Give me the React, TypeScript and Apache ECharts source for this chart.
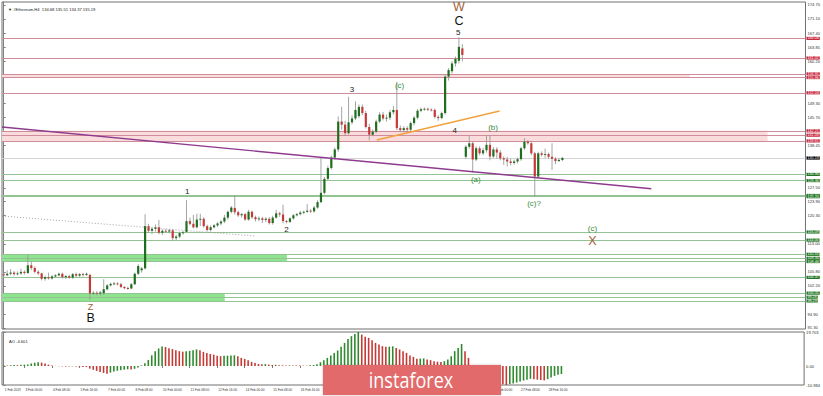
import React, { useEffect, useRef } from "react";
import * as echarts from "echarts";

// [open, close, low, high] per H4 bar
const ohlc: number[][] = [
  [105.2, 104.9, 104.4, 105.8], [104.9, 105.3, 104.7, 106.2], [105.3, 105.6, 104.9, 106.5], [105.6, 105.2, 104.8, 106.0],
  [105.2, 105.4, 104.9, 105.9], [105.4, 105.8, 105.0, 106.6], [105.8, 105.5, 105.1, 106.2], [105.5, 107.5, 105.2, 110.2],
  [107.5, 106.8, 106.3, 108.4], [106.8, 105.8, 105.4, 107.2], [105.8, 105.4, 105.0, 106.2], [105.4, 104.0, 103.6, 105.6],
  [104.0, 104.4, 103.5, 104.8], [104.4, 104.1, 103.8, 105.6], [104.1, 104.6, 103.8, 105.0], [104.6, 104.9, 104.3, 105.2],
  [104.9, 105.3, 104.6, 105.6], [105.3, 104.4, 104.1, 105.6], [104.4, 104.7, 104.0, 105.0], [104.7, 104.3, 104.0, 105.0],
  [104.3, 105.2, 104.0, 105.5], [105.2, 104.8, 104.4, 105.6], [104.8, 105.2, 104.5, 105.5], [105.2, 105.0, 104.6, 105.5],
  [105.0, 105.3, 104.7, 105.6], [105.0, 100.2, 98.5, 105.3], [100.2, 100.4, 99.8, 100.8], [100.4, 100.2, 99.7, 100.8],
  [100.2, 100.5, 99.7, 100.9], [100.3, 101.3, 99.8, 103.9], [101.3, 102.3, 101.0, 102.6], [102.3, 102.7, 102.0, 103.0],
  [102.7, 102.8, 102.4, 103.2], [102.8, 102.6, 102.3, 103.1], [102.6, 101.9, 101.6, 103.0], [101.9, 101.6, 101.3, 102.1],
  [101.6, 101.5, 101.2, 102.0], [101.5, 102.6, 101.3, 102.9], [102.6, 105.3, 102.4, 105.6], [105.3, 107.3, 105.0, 107.8],
  [106.2, 106.7, 105.6, 107.0], [106.7, 117.6, 106.4, 120.7], [117.6, 116.4, 115.8, 118.2], [116.4, 116.9, 115.5, 117.3],
  [116.9, 117.3, 116.2, 118.0], [117.3, 115.9, 115.5, 119.2], [115.9, 116.4, 115.3, 116.8], [116.4, 116.2, 115.8, 116.9],
  [116.2, 116.5, 115.7, 116.9], [116.5, 114.5, 113.8, 116.8], [114.5, 114.9, 114.0, 115.3], [114.9, 115.8, 114.5, 116.2],
  [115.8, 116.0, 115.4, 116.4], [116.1, 118.9, 115.9, 124.3], [118.9, 118.2, 117.8, 119.8], [118.2, 117.3, 117.0, 120.5],
  [117.3, 119.3, 117.0, 120.8], [119.3, 119.5, 117.6, 120.8], [119.5, 117.6, 117.2, 119.9], [117.6, 116.6, 116.2, 118.0],
  [116.6, 117.3, 116.2, 117.8], [117.3, 117.8, 117.0, 118.1], [117.8, 118.3, 117.4, 118.6], [118.3, 118.8, 117.8, 119.1],
  [118.8, 119.8, 118.4, 120.5], [119.8, 121.3, 119.3, 121.6], [121.3, 122.4, 120.9, 122.8], [122.3, 121.2, 120.6, 125.6],
  [121.2, 120.4, 120.0, 121.6], [120.4, 120.7, 119.8, 121.0], [120.7, 119.3, 119.0, 121.0], [119.3, 121.3, 119.0, 121.8],
  [121.3, 119.9, 119.5, 121.6], [119.9, 119.4, 118.8, 120.3], [119.4, 119.6, 118.9, 120.1], [119.6, 119.2, 118.4, 120.0],
  [119.2, 119.5, 118.6, 119.9], [119.5, 118.4, 118.0, 119.9], [118.4, 119.8, 118.0, 120.3], [119.8, 120.9, 119.5, 121.8],
  [120.9, 120.6, 120.0, 121.3], [120.6, 118.9, 118.3, 123.1], [118.9, 118.7, 118.3, 119.2], [118.7, 119.6, 118.4, 119.9],
  [119.6, 120.4, 119.3, 120.7], [120.4, 120.7, 120.1, 121.0], [120.7, 121.1, 120.4, 121.5], [121.1, 121.3, 120.7, 121.6],
  [121.3, 121.6, 121.0, 123.3], [121.6, 121.4, 121.0, 122.0], [121.4, 122.4, 121.1, 122.8], [122.4, 123.8, 122.1, 124.3],
  [123.8, 126.2, 123.5, 135.4], [126.2, 129.8, 125.8, 130.3], [129.8, 132.6, 129.4, 133.2], [132.6, 135.3, 132.2, 135.8],
  [135.3, 137.4, 134.8, 137.9], [137.4, 144.6, 136.8, 145.9], [144.6, 143.8, 142.5, 148.4], [143.8, 141.6, 141.0, 144.8],
  [141.6, 144.4, 141.2, 151.0], [144.4, 145.4, 143.9, 146.2], [145.4, 147.6, 145.0, 149.8], [146.0, 148.4, 145.5, 149.0],
  [148.4, 146.8, 146.3, 149.0], [146.8, 143.2, 142.8, 147.4], [143.2, 141.2, 139.8, 144.0], [141.2, 142.0, 140.8, 142.6],
  [142.0, 144.6, 141.6, 145.1], [144.6, 146.4, 144.2, 147.0], [146.4, 145.4, 144.9, 147.1], [145.4, 145.6, 144.6, 146.4],
  [145.6, 147.0, 145.0, 147.6], [147.0, 147.6, 146.4, 148.6], [147.6, 142.9, 142.4, 154.9], [142.9, 142.4, 141.9, 143.6],
  [142.4, 142.9, 141.8, 143.4], [142.9, 142.5, 141.6, 143.4], [142.5, 144.2, 142.1, 144.6], [144.2, 145.6, 143.6, 146.0],
  [145.6, 147.4, 145.2, 147.8], [147.4, 147.8, 147.0, 148.2], [147.8, 147.9, 147.4, 148.2], [147.9, 147.7, 147.3, 148.2],
  [147.7, 147.6, 147.2, 148.0], [147.6, 145.8, 145.4, 148.0], [145.8, 145.5, 144.8, 146.2], [145.5, 146.8, 145.2, 147.2],
  [146.8, 156.2, 146.4, 156.8], [156.2, 157.9, 155.2, 158.4], [157.6, 159.6, 157.0, 160.2], [159.6, 160.8, 158.8, 161.4],
  [160.3, 163.9, 159.6, 166.4], [163.5, 161.8, 160.1, 164.6], [135.5, 138.1, 135.0, 138.5], [138.1, 139.0, 137.6, 140.9],
  [139.0, 134.8, 131.4, 139.4], [134.8, 137.7, 134.4, 138.2], [137.7, 136.4, 135.9, 138.2], [136.4, 137.2, 135.9, 137.8],
  [137.2, 138.6, 136.6, 140.9], [138.6, 135.6, 134.6, 141.1], [135.6, 137.4, 135.2, 138.0], [137.4, 136.6, 135.0, 138.0],
  [136.6, 135.1, 134.6, 137.2], [135.1, 134.8, 133.4, 135.6], [134.8, 134.3, 133.0, 135.5], [134.3, 133.9, 133.3, 135.0],
  [133.9, 134.3, 133.5, 134.8], [134.3, 134.9, 133.8, 135.3], [134.9, 137.7, 134.5, 138.1], [137.7, 139.4, 137.3, 140.3],
  [139.4, 139.0, 138.6, 139.8], [139.0, 136.4, 135.9, 139.6], [136.4, 130.4, 125.2, 136.8], [130.4, 136.4, 130.0, 136.8],
  [136.4, 136.0, 135.6, 136.9], [136.0, 136.2, 135.2, 137.6], [136.2, 135.5, 135.0, 136.6], [135.5, 135.0, 132.1, 139.0],
  [135.0, 134.4, 133.6, 135.4], [134.4, 134.7, 134.2, 135.2], [134.68, 135.19, 134.37, 135.51],
];

// Awesome Oscillator per bar
const aoValues: number[] = [
  0.4, 0.3, 0.5, 0.6, 0.5, 0.7, 0.8, 0.9,
  1.4, 1.9, 2.2, 2.0, 1.5, 0.8,
  0.3, 0.1, -0.1, -0.2, -0.3, -0.3, -0.2, -0.3, -0.4, -0.5, -0.6,
  -1.5, -2.2, -2.8, -3.4, -4.0, -4.4, -3.8, -3.2, -2.7, -2.4, -2.1, -1.9, -2.0, -1.6, -0.8, 0.4,
  1.6, 3.5, 6.2, 8.6, 10.2, 11.3,
  11.0, 10.3, 9.8, 9.2, 8.6, 8.3, 8.5, 8.8, 9.2, 9.6, 9.2, 8.2, 7.6, 7.0, 6.6, 6.0, 5.7,
  5.9, 6.0, 6.1, 6.2,
  5.6, 4.7, 4.1, 3.3, 2.4, 1.8, 1.2, 1.0, 1.1, 0.8, 0.6, 0.7, 0.5, 0.4, 0.3, 0.4, 0.35, 0.3, 0.3,
  0.25, 0.2, 0.4, 0.6, 1.1,
  2.2, 3.3, 4.7, 6.1, 7.6, 9.0, 11.1, 13.4, 15.7, 17.3, 18.6,
  19.7, 18.2, 17.0, 16.3, 14.9, 13.4, 12.4, 11.5, 11.1, 11.2, 11.4, 10.5, 9.6, 8.6, 7.6, 6.1, 5.3,
  4.2, 4.3, 4.4, 3.8, 3.4, 2.8, 2.5, 2.4, 2.8, 3.8, 5.7, 8.6, 10.5, 12.8, 8.6, 4.7,
  0.6, -1.8, -4.2, -6.3, -7.8, -8.9, -9.6, -10.1,
  -10.2, -10.6, -10.984, -10.5, -10.1, -9.6, -9.0, -8.4, -7.9, -7.4, -7.6, -7.9, -8.1, -8.3, -7.6, -6.6, -5.7, -5.1, -4.601,
];

const redLevels = [166.08, 161.01, 156.91, 155.96, 152.03, 142.21, 141.09, 139.61];
const greenLevels = [130.96, 129.36, 125.52, 125.2, 116.09, 114.0, 110.33, 109.3, 108.46, 104.37, 100.31, 99.26, 98.29];
const bidPrice = 135.19;

// [upper price, lower price, last bar index]
const pinkZones = [[156.91, 155.96, 198.9], [142.21, 139.61, 221.5]];
const greenZones = [[110.33, 108.46, 82.1], [100.31, 98.29, 64.1]];

// trend lines: [barIndex, price] pairs
const purpleTrend = [[-0.5, 143.2], [187.8, 127.27]];
const orangeTrend = [[108.2, 139.84], [143.8, 147.33]];
const dottedTrend = [[-0.5, 120.22], [72.8, 115.06]];

// price scale labels that stay visible beside the level boxes
const priceTicks = [174.7, 171.1, 167.4, 163.85, 160.2, 149.3, 145.7, 138.45, 127.5,
  123.9, 120.3, 113.0, 105.8, 102.2, 94.9, 91.3];
const aoTicks = [19.703, 0, -10.984];

const timeTickBars = [0, 6, 14, 22, 30, 38, 46, 54, 62, 70, 78, 86, 94, 102, 110, 118, 126, 134, 142, 150, 158];
const timeTickLabels = ["1 Feb 2019", "3 Feb 00:00", "4 Feb 08:00", "5 Feb 16:00", "7 Feb 00:00", "8 Feb 08:00",
  "10 Feb 00:00", "11 Feb 08:00", "12 Feb 16:00", "14 Feb 00:00", "15 Feb 08:00", "16 Feb 16:00", "18 Feb 00:00",
  "19 Feb 08:00", "20 Feb 16:00", "22 Feb 00:00", "23 Feb 08:00", "24 Feb 16:00", "26 Feb 00:00", "27 Feb 08:00",
  "28 Feb 16:00"];

// wave labels: [text, barIndex, price]
const brownBigWaves: [string, number, number][] = [["W", 132, 174.18], ["X", 170.7, 113.84]];
const brownSmallWaves: [string, number, number][] = [["Z", 25.2, 96.8]];
const blackBigWaves: [string, number, number][] = [["C", 132, 170.57], ["B", 25.2, 93.81]];
const blackSmallWaves: [string, number, number][] = [["5", 131.8, 167.47], ["3", 101, 152.75], ["4", 130.8, 142.17],
  ["1", 53.2, 126.67], ["2", 82, 116.79]];
const greenWaves: [string, number, number][] = [["(c)", 114.8, 153.79], ["(b)", 141.9, 143.12], ["(a)", 136.9, 129.7],
  ["(c)?", 153.8, 123.32], ["(c)", 170.7, 117.04]];

const SYMBOL = "#Ethereum,H4";
const X_MIN = -0.5;
const X_MAX = 232.5;
const FONT = "'Liberation Sans', Arial, sans-serif";
const TINY = 4.1;

function waveSeries(group: [string, number, number][], color: string, size: number) {
  return {
    type: "custom",
    xAxisIndex: 0,
    yAxisIndex: 0,
    z: 6,
    silent: true,
    data: group.map((g) => [g[1], g[2]]),
    renderItem: (params: any, api: any) => {
      const pt = api.coord([api.value(0), api.value(1)]);
      return {
        type: "text",
        x: pt[0],
        y: pt[1],
        style: {
          text: group[params.dataIndex][0],
          fill: color,
          fontSize: size,
          lineHeight: size,
          fontFamily: FONT,
          align: "center",
          verticalAlign: "middle",
        },
      };
    },
  };
}

function levelLine(v: number, lineColor: string, boxColor: string) {
  return {
    yAxis: v,
    lineStyle: { color: lineColor, width: 1, type: "solid" },
    label: {
      show: true,
      position: "end",
      formatter: v.toFixed(2),
      backgroundColor: boxColor,
      color: "#fff",
      fontSize: 3.7,
      lineHeight: 3.2,
      fontFamily: FONT,
      padding: [0, 1, 0, 1],
      distance: 1,
    },
  };
}

export default function App() {
  const ref = useRef<HTMLDivElement>(null);
  useEffect(() => {
    if (!ref.current) return;
    const chart = echarts.init(ref.current, null, { renderer: "svg" });
    const last = ohlc[ohlc.length - 1];
    const title = `\u25BC ${SYMBOL}  ${last[0].toFixed(2)} ${last[3].toFixed(2)} ${last[2].toFixed(2)} ${last[1].toFixed(2)}`;
    const aoLast = aoValues[aoValues.length - 1];

    const candleData = ohlc.map((d, i) => [i, d[0], d[1], d[2], d[3]]);
    const aoData = aoValues.map((v, i) => [i, v]);

    const option: any = {
      animation: false,
      backgroundColor: "#ffffff",
      title: [
        { text: title, left: 3, top: 2, textStyle: { fontSize: TINY, color: "#222", fontWeight: "normal", fontFamily: FONT } },
        { text: `AO ${aoLast.toFixed(3)}`, left: 4, top: 334, textStyle: { fontSize: TINY, color: "#222", fontWeight: "normal", fontFamily: FONT } },
      ],
      grid: [
        { left: 2, right: 17, top: 2, height: 327, show: true, borderColor: "#707070", borderWidth: 1, backgroundColor: "transparent" },
        { left: 2, right: 17, top: 332, height: 53, show: true, borderColor: "#707070", borderWidth: 1, backgroundColor: "transparent" },
      ],
      xAxis: [
        { type: "value", gridIndex: 0, min: X_MIN, max: X_MAX, show: false },
        {
          type: "value", gridIndex: 1, min: X_MIN, max: X_MAX,
          axisLine: { show: false },
          splitLine: { show: false },
          axisTick: { show: true, customValues: timeTickBars, length: 2, lineStyle: { color: "#777" } },
          axisLabel: {
            customValues: timeTickBars,
            formatter: (v: number) => timeTickLabels[timeTickBars.indexOf(v)] ?? "",
            fontSize: 3.2, color: "#333", fontFamily: FONT, align: "left", margin: 3, padding: [0, 0, 0, 1],
            hideOverlap: false, showMinLabel: true, showMaxLabel: true,
          },
        },
      ],
      yAxis: [
        {
          type: "value", gridIndex: 0, position: "right", min: 91.04, max: 175.47,
          axisLine: { show: true, lineStyle: { color: "#808080" } },
          splitLine: { show: false },
          axisTick: { show: true, customValues: priceTicks, length: 2, lineStyle: { color: "#808080" } },
          axisLabel: {
            customValues: priceTicks, formatter: (v: number) => v.toFixed(2),
            fontSize: TINY, lineHeight: 3.2, color: "#333", fontFamily: FONT, margin: 2,
          },
        },
        {
          type: "value", gridIndex: 1, position: "right", min: -10.984, max: 19.703,
          axisLine: { show: true, lineStyle: { color: "#808080" } },
          splitLine: { show: false },
          axisTick: { show: true, customValues: aoTicks, length: 2, lineStyle: { color: "#808080" } },
          axisLabel: {
            customValues: aoTicks,
            formatter: (v: number) => (v === 0 ? "0.00" : v.toFixed(3)),
            fontSize: TINY, color: "#333", fontFamily: FONT, margin: 2,
          },
        },
      ],
      series: [
        {
          type: "line",
          xAxisIndex: 0,
          yAxisIndex: 0,
          z: 1,
          silent: true,
          showSymbol: false,
          symbol: "none",
          lineStyle: { opacity: 0 },
          data: [[0, ohlc[0][1]]],
          markArea: {
            silent: true,
            z: 1,
            data: [
              ...pinkZones.map((z) => [
                { xAxis: X_MIN, yAxis: z[0], itemStyle: { color: "#fbdcdc" } },
                { xAxis: z[2], yAxis: z[1] },
              ]),
              ...greenZones.map((z) => [
                { xAxis: X_MIN, yAxis: z[0], itemStyle: { color: "#8ee48e" } },
                { xAxis: z[2], yAxis: z[1] },
              ]),
            ],
          },
          markLine: {
            silent: true,
            z: 1,
            symbol: ["none", "none"],
            data: [
              ...redLevels.map((v) => levelLine(v, "#cf8d9b", "#c62339")),
              ...greenLevels.map((v) => levelLine(v, "#93c293", "#217521")),
              levelLine(bidPrice, "#d4d4d4", "#000000"),
            ],
          },
        },
        {
          type: "custom",
          xAxisIndex: 0,
          yAxisIndex: 0,
          z: 3,
          silent: true,
          data: candleData,
          encode: { x: 0, y: [1, 2, 3, 4] },
          renderItem: (params: any, api: any) => {
            const i = api.value(0);
            const o = api.value(1);
            const c = api.value(2);
            const l = api.value(3);
            const h = api.value(4);
            const pO = api.coord([i, o]);
            const pC = api.coord([i, c]);
            const pL = api.coord([i, l]);
            const pH = api.coord([i, h]);
            const cx = pO[0];
            const top = Math.min(pO[1], pC[1]);
            const bot = Math.max(pO[1], pC[1]);
            const up = c >= o;
            return {
              type: "group",
              children: [
                { type: "line", shape: { x1: cx, y1: pH[1], x2: cx, y2: pL[1] }, style: { stroke: "#9a9a9a", lineWidth: 0.9 } },
                {
                  type: "rect",
                  shape: { x: cx - 1.1, y: top, width: 2.2, height: Math.max(bot - top, 0.9) },
                  style: { fill: up ? "#1f6e1f" : "#c43a3a" },
                },
              ],
            };
          },
        },
        {
          type: "line",
          xAxisIndex: 0,
          yAxisIndex: 0,
          z: 4,
          silent: true,
          showSymbol: false,
          symbol: "none",
          lineStyle: { opacity: 0 },
          data: [[0, ohlc[0][1]]],
          markLine: {
            silent: true,
            z: 4,
            symbol: ["none", "none"],
            label: { show: false },
            data: [
              [{ coord: purpleTrend[0], lineStyle: { color: "#8e3a8e", width: 1.4, type: "solid" } }, { coord: purpleTrend[1] }],
              [{ coord: orangeTrend[0], lineStyle: { color: "#f0a23c", width: 1.4, type: "solid" } }, { coord: orangeTrend[1] }],
              [{ coord: dottedTrend[0], lineStyle: { color: "#8a8a8a", width: 0.8, type: [1, 2] } }, { coord: dottedTrend[1] }],
            ],
          },
        },
        waveSeries(brownBigWaves, "#a0603a", 12.5),
        waveSeries(brownSmallWaves, "#a0603a", 9),
        waveSeries(blackBigWaves, "#111111", 12.5),
        waveSeries(blackSmallWaves, "#222222", 8),
        waveSeries(greenWaves, "#3a8c3a", 8),
        {
          type: "custom",
          xAxisIndex: 1,
          yAxisIndex: 1,
          silent: true,
          data: aoData,
          renderItem: (params: any, api: any) => {
            const i = api.value(0);
            const v = api.value(1);
            const p0 = api.coord([i, 0]);
            const p1 = api.coord([i, v]);
            const prev = params.dataIndex > 0 ? aoValues[params.dataIndex - 1] : -Infinity;
            const color = v > prev ? "#2f8a2f" : "#c63a35";
            return {
              type: "rect",
              shape: { x: p0[0] - 0.8, y: Math.min(p0[1], p1[1]), width: 1.6, height: Math.abs(p1[1] - p0[1]) },
              style: { fill: color },
            };
          },
        },
      ],
      graphic: [
        {
          type: "rect",
          z: 100,
          shape: { x: 323, y: 365, width: 178, height: 30 },
          style: { fill: "#e26a6a", shadowBlur: 2, shadowColor: "rgba(0,0,0,0.25)" },
        },
        {
          type: "text",
          z: 101,
          x: 411,
          y: 380,
          scaleX: 0.82,
          style: {
            text: "instaforex",
            fill: "#ffffff",
            fontSize: 22,
            fontFamily: "'Open Sans', Roboto, sans-serif",
            align: "center",
            verticalAlign: "middle",
          },
        },
      ],
    };
    chart.setOption(option);
    return () => chart.dispose();
  }, []);
  return <div ref={ref} style={{ position: "fixed", left: 0, top: 0, width: 823, height: 396, background: "#fff" }} />;
}
